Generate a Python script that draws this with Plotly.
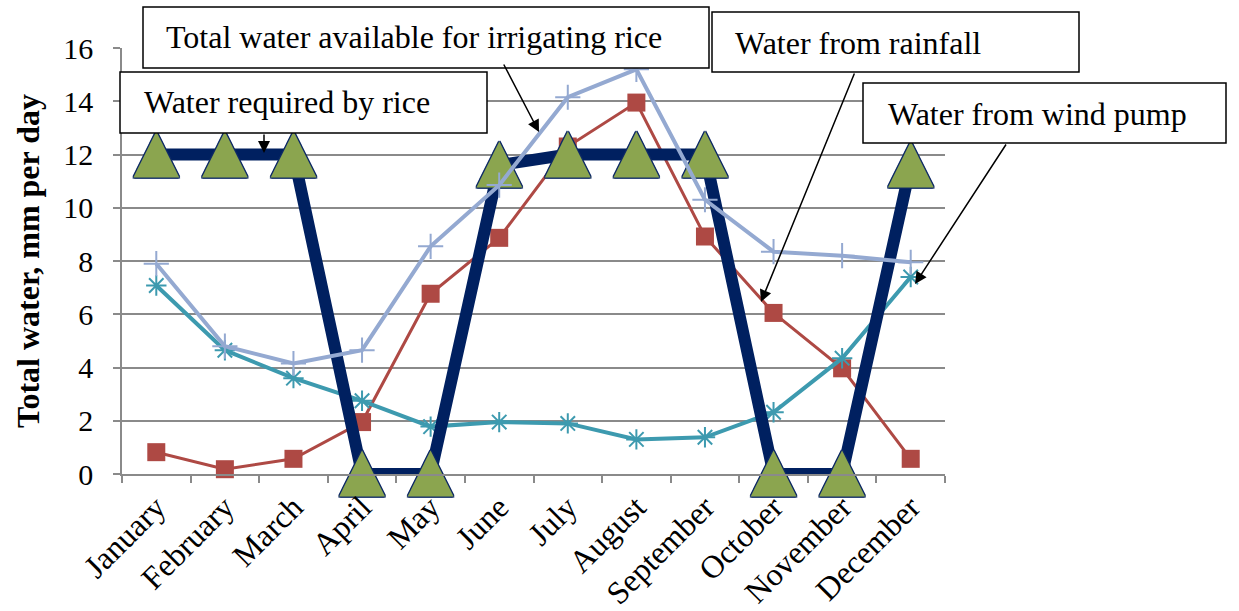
import plotly.graph_objects as go

# Monthly water balance for a rice field (mm per day)
months = ["January", "February", "March", "April", "May", "June",
          "July", "August", "September", "October", "November", "December"]
water_required = [12, 12, 12, 0, 0, 11.6, 12, 12, 12, 0, 0, 11.6]
total_available = [7.9, 4.8, 4.15, 4.65, 8.55, 10.85, 14.15, 15.2, 10.3, 8.35, 8.2, 7.95]
rainfall = [0.82, 0.18, 0.57, 1.95, 6.77, 8.87, 12.3, 13.95, 8.92, 6.05, 3.97, 0.57]
wind_pump = [7.08, 4.65, 3.6, 2.75, 1.78, 1.95, 1.9, 1.3, 1.38, 2.32, 4.35, 7.4]
y_ticks = [0, 2, 4, 6, 8, 10, 12, 14, 16]

W, H = 1239, 611
L, R, T, B = 122, 294, 48, 137
PW, PH = W - L - R, H - T - B
FONT = "Liberation Serif"
GRID = "#8a8a8a"
NAVY = "#002060"
EDGE = "#0E2A66"


def fx(px):
    return (px - L) / PW


def fy(py):
    return (H - B - py) / PH


fig = go.Figure()

fig.add_trace(go.Scatter(
    x=months, y=rainfall, mode="lines+markers", name="Water from rainfall",
    line=dict(color="#AE4944", width=3),
    marker=dict(symbol="square", size=18, color="#AE4944"),
    cliponaxis=False,
))
fig.add_trace(go.Scatter(
    x=months, y=wind_pump, mode="lines+markers", name="Water from wind pump",
    line=dict(color="#3D9AAF", width=4),
    marker=dict(symbol="asterisk-open", size=17, line=dict(color="#3D9AAF", width=2)),
    cliponaxis=False,
))
fig.add_trace(go.Scatter(
    x=months, y=water_required, mode="lines", name="Water required by rice",
    line=dict(color=NAVY, width=12),
    cliponaxis=False,
))
# Tall triangle markers drawn as glyphs with a thin dark outline
outline = ", ".join(f"{dx}px {dy}px 0 {EDGE}"
                    for dx, dy in [(1, 0), (-1, 0), (0, 1), (0, -1),
                                   (1, 1), (-1, -1), (1, -1), (-1, 1)])
fig.add_trace(go.Scatter(
    x=months, y=water_required, mode="text", name="Water required by rice",
    text=["\u25B2"] * len(months), textposition="middle center",
    textfont=dict(family="DejaVu Sans", size=60, color="#8BA54F", shadow=outline),
    cliponaxis=False, hoverinfo="skip",
))
fig.add_trace(go.Scatter(
    x=months, y=total_available, mode="lines+markers",
    name="Total water available for irrigating rice",
    line=dict(color="#94A9D1", width=4),
    marker=dict(symbol="cross-thin-open", size=18, line=dict(color="#94A9D1", width=2)),
    cliponaxis=False,
))

# Callout boxes: (label, left, top, right, bottom, text left, text middle)
callouts = [
    ("Total water available for irrigating rice", 143, 7, 709, 68, 164, 37),
    ("Water required by rice", 120, 72, 487, 133, 142, 102),
    ("Water from rainfall", 712, 12, 1079, 72, 733, 43),
    ("Water from wind pump", 863, 83, 1226, 143, 886, 114),
]
shapes = []
annotations = []
for text, x0, y0, x1, y1, tx, ty in callouts:
    shapes.append(dict(type="rect", xref="paper", yref="paper",
                       x0=fx(x0), x1=fx(x1), y0=fy(y1), y1=fy(y0),
                       line=dict(color="black", width=1.5), fillcolor="white",
                       layer="above"))
    annotations.append(dict(text=text, xref="paper", yref="paper",
                            x=fx(tx), y=fy(ty), xanchor="left", yanchor="middle",
                            showarrow=False,
                            font=dict(family=FONT, size=32, color="black")))

# Leader arrows: (tail x, tail y, head x, head y)
leaders = [
    (264, 133, 264, 153),
    (503, 63, 539, 132),
    (855, 72, 761, 302),
    (1007, 143, 915, 284),
]
for x0, y0, x1, y1 in leaders:
    annotations.append(dict(text="", xref="paper", yref="paper",
                            x=fx(x1), y=fy(y1), ax=x0 - x1, ay=y0 - y1,
                            axref="pixel", ayref="pixel",
                            showarrow=True, arrowhead=2, arrowsize=1.6,
                            arrowwidth=1.5, arrowcolor="black", standoff=0))

fig.update_layout(
    width=W, height=H,
    margin=dict(l=L, r=R, t=T, b=B, pad=0, autoexpand=False),
    paper_bgcolor="white", plot_bgcolor="white",
    showlegend=False,
    font=dict(family=FONT, size=30, color="black"),
    shapes=shapes,
    annotations=annotations,
)
fig.update_xaxes(
    type="category", range=[-0.5, len(months) - 0.5], autorange=False,
    automargin=False,
    tickson="boundaries", ticks="outside", ticklen=7,
    tickcolor=GRID, tickwidth=1.5,
    showline=True, linecolor=GRID, linewidth=1.5,
    showgrid=False, tickangle=-45,
    tickfont=dict(family=FONT, size=32, color="black"),
)
fig.update_yaxes(
    range=[0, 16], autorange=False, automargin=False,
    tickvals=y_ticks, ticks="outside", ticklen=7,
    tickcolor=GRID, tickwidth=1.5,
    showline=True, linecolor=GRID, linewidth=1.5,
    showgrid=True, gridcolor=GRID, gridwidth=1.5, zeroline=False,
    ticklabelstandoff=14,
    tickfont=dict(family=FONT, size=30, color="black"),
    title=dict(text="<b>Total water, mm per day</b>", standoff=14,
               font=dict(family=FONT, size=32, color="black")),
)

fig.write_html("out.html")
